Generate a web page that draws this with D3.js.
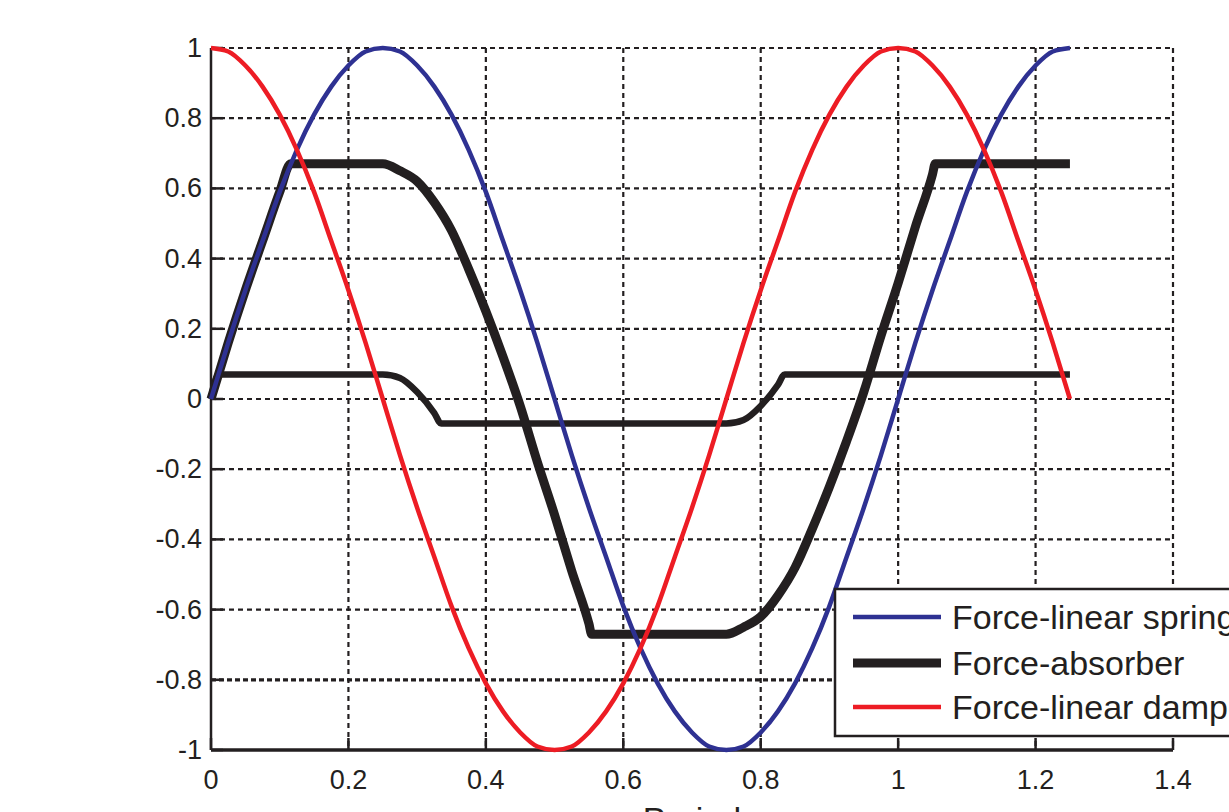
<!DOCTYPE html>
<html>
<head>
<meta charset="utf-8">
<script src="https://cdn.jsdelivr.net/npm/d3@7"></script>
<style>
    body { margin: 0; background: white; }
    svg { display: block; font-family: Arial, "Liberation Sans", sans-serif; }
</style>
</head>
<body>
<svg id="chart" width="1229" height="812"></svg>
<script>
// sample positions along the period (shared by spring and damper)
const periodX = [0, 0.025, 0.05, 0.075, 0.1, 0.125, 0.15, 0.175, 0.2, 0.225,
    0.25, 0.275, 0.3, 0.325, 0.35, 0.375, 0.4, 0.425, 0.45, 0.475,
    0.5, 0.525, 0.55, 0.575, 0.6, 0.625, 0.65, 0.675, 0.7, 0.725,
    0.75, 0.775, 0.8, 0.825, 0.85, 0.875, 0.9, 0.925, 0.95, 0.975,
    1, 1.025, 1.05, 1.075, 1.1, 1.125, 1.15, 1.175, 1.2, 1.225, 1.25];

const springForce = [0, 0.16, 0.31, 0.45, 0.59, 0.71, 0.81, 0.89, 0.95, 0.99,
    1, 0.99, 0.95, 0.89, 0.81, 0.71, 0.59, 0.45, 0.31, 0.16,
    0, -0.16, -0.31, -0.45, -0.59, -0.71, -0.81, -0.89, -0.95, -0.99,
    -1, -0.99, -0.95, -0.89, -0.81, -0.71, -0.59, -0.45, -0.31, -0.16,
    0, 0.16, 0.31, 0.45, 0.59, 0.71, 0.81, 0.89, 0.95, 0.99, 1];

const damperForce = [1, 0.99, 0.95, 0.89, 0.81, 0.71, 0.59, 0.45, 0.31, 0.16,
    0, -0.16, -0.31, -0.45, -0.59, -0.71, -0.81, -0.89, -0.95, -0.99,
    -1, -0.99, -0.95, -0.89, -0.81, -0.71, -0.59, -0.45, -0.31, -0.16,
    0, 0.16, 0.31, 0.45, 0.59, 0.71, 0.81, 0.89, 0.95, 0.99,
    1, 0.99, 0.95, 0.89, 0.81, 0.71, 0.59, 0.45, 0.31, 0.16, 0];

// absorber (large slip force)
const absorberX = [0, 0.025, 0.05, 0.075, 0.1, 0.116, 0.25, 0.275, 0.3, 0.325,
    0.35, 0.375, 0.4, 0.425, 0.45, 0.475, 0.5, 0.525, 0.55, 0.554,
    0.75, 0.775, 0.8, 0.825, 0.85, 0.875, 0.9, 0.925, 0.95, 0.975,
    1, 1.025, 1.05, 1.054, 1.25];
const absorberForce = [0, 0.16, 0.31, 0.45, 0.59, 0.67, 0.67, 0.65, 0.62, 0.56,
    0.48, 0.37, 0.25, 0.12, -0.02, -0.18, -0.33, -0.49, -0.64, -0.67,
    -0.67, -0.65, -0.62, -0.56, -0.48, -0.37, -0.25, -0.12, 0.02, 0.18,
    0.33, 0.49, 0.64, 0.67, 0.67];

// absorber (small slip force)
const smallAbsorberX = [0, 0.011, 0.25, 0.275, 0.3, 0.325, 0.335,
    0.75, 0.775, 0.8, 0.825, 0.835, 1.25];
const smallAbsorberForce = [0, 0.07, 0.07, 0.06, 0.02, -0.04, -0.07,
    -0.07, -0.06, -0.02, 0.04, 0.07, 0.07];

const xTicks = [0, 0.2, 0.4, 0.6, 0.8, 1, 1.2, 1.4];
const xTickLabels = ["0", "0.2", "0.4", "0.6", "0.8", "1", "1.2", "1.4"];
const yTicks = [1, 0.8, 0.6, 0.4, 0.2, 0, -0.2, -0.4, -0.6, -0.8, -1];
const yTickLabels = ["1", "0.8", "0.6", "0.4", "0.2", "0", "-0.2", "-0.4", "-0.6", "-0.8", "-1"];

const legendNames = ["Force-linear spring", "Force-absorber", "Force-linear damper"];

const BLUE = "#2e3192";
const RED = "#ed1c24";
const BLACK = "#231f20";

/**
 * Draws the force/period chart
 * @param id Id of the svg tag to draw into
 */
function forceChart(id) {
    let svg = d3.select("#" + id);

    let left = 211, right = 1173, top = 48, bottom = 750;

    let x = d3.scaleLinear().domain([0, 1.4]).range([left, right]);
    let y = d3.scaleLinear().domain([-1, 1]).range([bottom, top]);

    // grid
    svg.append("g")
        .selectAll("line")
        .data(xTicks.slice(1))
        .join("line")
        .attr("x1", d => x(d)).attr("x2", d => x(d))
        .attr("y1", top).attr("y2", bottom)
        .attr("stroke", BLACK)
        .attr("stroke-width", 2.2)
        .attr("stroke-dasharray", "5,4");

    svg.append("g")
        .selectAll("line")
        .data(yTicks.filter(d => d !== -1))
        .join("line")
        .attr("x1", left).attr("x2", right)
        .attr("y1", d => y(d)).attr("y2", d => y(d))
        .attr("stroke", BLACK)
        .attr("stroke-width", d => d === -0.8 ? 3.2 : 2.2)
        .attr("stroke-dasharray", d => d === -0.8 ? "5,3" : "5,4");

    // axes lines + inward ticks
    svg.append("line")
        .attr("x1", left).attr("x2", left)
        .attr("y1", top).attr("y2", bottom)
        .attr("stroke", BLACK).attr("stroke-width", 2.5);
    svg.append("line")
        .attr("x1", left).attr("x2", right)
        .attr("y1", bottom).attr("y2", bottom)
        .attr("stroke", BLACK).attr("stroke-width", 3.5);

    svg.append("g")
        .selectAll("line")
        .data(yTicks)
        .join("line")
        .attr("x1", left).attr("x2", left + 12)
        .attr("y1", d => y(d)).attr("y2", d => y(d))
        .attr("stroke", BLACK).attr("stroke-width", 2.5);

    svg.append("g")
        .selectAll("line")
        .data(xTicks)
        .join("line")
        .attr("x1", d => x(d)).attr("x2", d => x(d))
        .attr("y1", bottom).attr("y2", bottom - 12)
        .attr("stroke", BLACK).attr("stroke-width", 2.5);

    // tick labels
    svg.append("g")
        .selectAll("text")
        .data(yTicks)
        .join("text")
        .text((d, i) => yTickLabels[i])
        .attr("x", left - 9)
        .attr("y", d => y(d))
        .attr("text-anchor", "end")
        .attr("dominant-baseline", "central")
        .attr("font-size", 27)
        .attr("fill", BLACK);

    svg.append("g")
        .selectAll("text")
        .data(xTicks)
        .join("text")
        .text((d, i) => xTickLabels[i])
        .attr("x", d => x(d))
        .attr("y", 789)
        .attr("text-anchor", "middle")
        .attr("font-size", 27)
        .attr("fill", BLACK);

    svg.append("text")
        .text("Period")
        .attr("x", (left + right) / 2)
        .attr("y", 831)
        .attr("text-anchor", "middle")
        .attr("font-size", 34)
        .attr("fill", BLACK);

    // series
    let smooth = d3.line().x(d => x(d[0])).y(d => y(d[1])).curve(d3.curveMonotoneX);

    svg.append("path")
        .attr("d", smooth(d3.zip(smallAbsorberX, smallAbsorberForce)))
        .attr("fill", "none")
        .attr("stroke", BLACK)
        .attr("stroke-width", 6.5);

    svg.append("path")
        .attr("d", smooth(d3.zip(absorberX, absorberForce)))
        .attr("fill", "none")
        .attr("stroke", BLACK)
        .attr("stroke-width", 9)
        .attr("stroke-linejoin", "round");

    svg.append("path")
        .attr("d", smooth(d3.zip(periodX, springForce)))
        .attr("fill", "none")
        .attr("stroke", BLUE)
        .attr("stroke-width", 4.5);

    svg.append("path")
        .attr("d", smooth(d3.zip(periodX, damperForce)))
        .attr("fill", "none")
        .attr("stroke", RED)
        .attr("stroke-width", 4.5);

    // legend (runs off the right edge)
    let legend = svg.append("g");
    legend.append("rect")
        .attr("x", 835).attr("y", 589)
        .attr("width", 420).attr("height", 147)
        .attr("fill", "white")
        .attr("stroke", BLACK)
        .attr("stroke-width", 2.5);

    let colors = [BLUE, BLACK, RED];
    let widths = [4.5, 9, 4.5];
    let rows = [617, 663, 707];
    legendNames.forEach((name, i) => {
        legend.append("line")
            .attr("x1", 853).attr("x2", 941)
            .attr("y1", rows[i]).attr("y2", rows[i])
            .attr("stroke", colors[i])
            .attr("stroke-width", widths[i]);
        legend.append("text")
            .text(name)
            .attr("x", 952)
            .attr("y", rows[i] + 12)
            .attr("font-size", 34)
            .attr("fill", BLACK);
    });
}

forceChart("chart");
</script>
</body>
</html>
